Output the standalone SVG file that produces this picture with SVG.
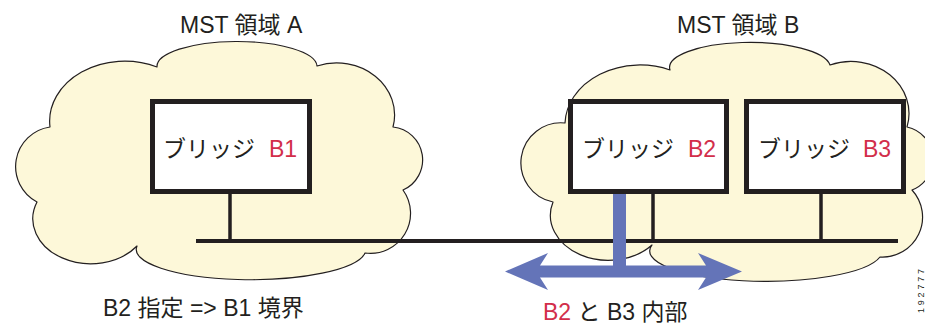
<svg xmlns="http://www.w3.org/2000/svg" width="925" height="324" viewBox="0 0 925 324">
<style>
.cloud{fill:#FDF8D9;stroke:#231F20;stroke-width:1.2;stroke-linejoin:round}
.box{fill:#FFFFFF;stroke:#231F20;stroke-width:5}
.wire{stroke:#231F20;stroke-width:3.5;fill:none}
.bus{stroke:#231F20;stroke-width:4;fill:none}
.flow{fill:#6474B8;stroke:none}
text{font-family:"Liberation Sans","Noto Sans CJK JP",sans-serif;font-size:23px;fill:#231F20}
.red{fill:#D22E4A}
.fig{font-size:9px}
</style>
<g id="region-a">
<path class="cloud" d="M157,67 A80,25 0 0 1 317,66 A58,52 0 0 1 393,127 A33,33 0 0 1 403,190 A40,40 0 0 1 365,253 A114,30 0 0 1 137,246 A58,45 0 0 1 37,202 A40,40 0 0 1 50,127 A75,60 0 0 1 157,67 Z"/>
<text x="180" y="33">MST 領域 A</text>
</g>
<g id="region-b">
<path class="cloud" d="M565,123 A75,60 0 0 1 670,70 A80,25 0 0 1 830,65 A58,52 0 0 1 907,127 A33,33 0 0 1 912,190 A40,40 0 0 1 880,257 A115,30 0 0 1 652,245 A58,45 0 0 1 553,202 A40,40 0 0 1 565,123 Z"/>
<text x="677" y="33">MST 領域 B</text>
</g>
<g id="connectors">
<line class="bus" x1="196" y1="241" x2="898" y2="241"/>
<line class="wire" x1="230" y1="193" x2="230" y2="241"/>
<line class="wire" x1="653" y1="193" x2="653" y2="241"/>
<line class="wire" x1="821" y1="193" x2="821" y2="241"/>
</g>
<g id="bridge-b1">
<rect class="box" x="152.5" y="101.5" width="157" height="90"/>
<text x="163" y="157">ブリッジ<tspan class="red" x="269">B1</tspan></text>
</g>
<g id="bridge-b2">
<rect class="box" x="570.5" y="101.5" width="156" height="90"/>
<text x="582" y="157">ブリッジ<tspan class="red" x="688">B2</tspan></text>
</g>
<g id="bridge-b3">
<rect class="box" x="746.5" y="101.5" width="157" height="90"/>
<text x="758" y="157">ブリッジ<tspan class="red" x="863">B3</tspan></text>
</g>
<g id="internal-flow">
<path class="flow" d="M505,271.5 L548,253 L540,265.5 L613,265.5 L613,194 L626,194 L626,265.5 L706,265.5 L698,253 L742,271.5 L698,290 L706,277.5 L540,277.5 L548,290 Z"/>
</g>
<g id="labels">
<text x="103" y="316">B2 指定 =&gt; B1 境界</text>
<text x="543" y="320"><tspan class="red">B2</tspan> と B3 内部</text>
<text class="fig" transform="translate(924,313) rotate(-90)" textLength="44" lengthAdjust="spacing">192777</text>
</g>
</svg>
